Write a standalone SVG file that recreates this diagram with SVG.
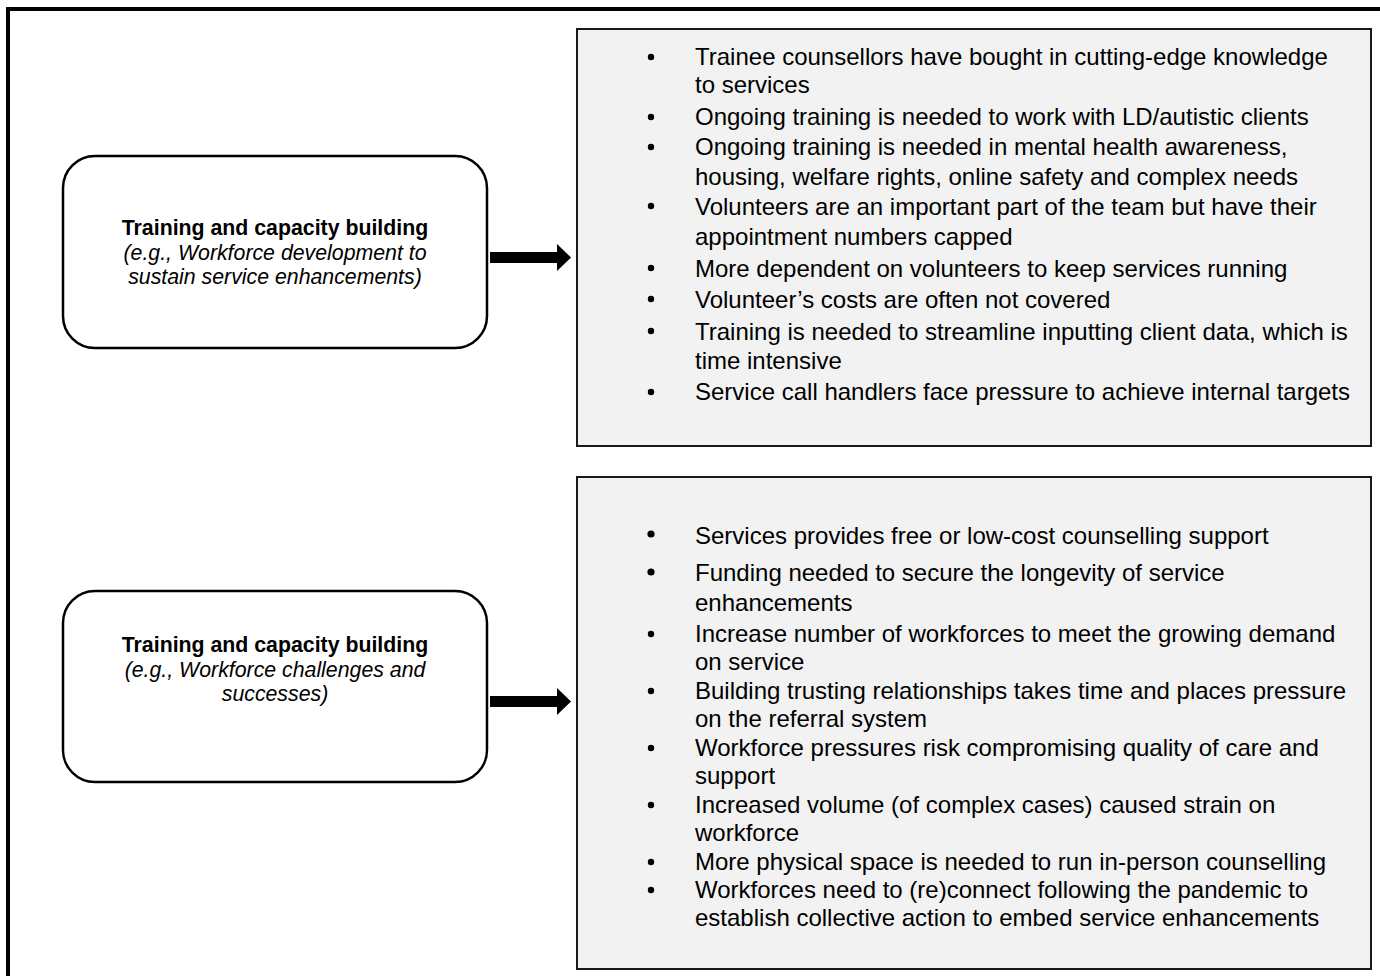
<svg xmlns="http://www.w3.org/2000/svg" width="1380" height="976" viewBox="0 0 1380 976">
<style>
.frame{fill:none;stroke:#000;stroke-width:4}
.src{fill:#fff;stroke:#000;stroke-width:2.5}
.list{fill:#f2f2f2;stroke:#1a1a1a;stroke-width:2}
.t{font-family:"Liberation Sans",Arial,sans-serif;fill:#000}
.b{font-weight:bold;font-size:21.3px}
.i{font-style:italic;font-size:21.3px}
.li{font-size:24px}
.dot{fill:#000}
</style>
<rect class="frame" x="8" y="9" width="1400" height="1000"/>
<g id="node-src1">
<rect class="src" x="63" y="156" width="424" height="192" rx="32" ry="32"/>
<text class="t b" x="275" y="235" text-anchor="middle">Training and capacity building</text>
<text class="t i" x="275" y="260" text-anchor="middle">(e.g., Workforce development to</text>
<text class="t i" x="275" y="284" text-anchor="middle">sustain service enhancements)</text>
</g>
<g id="node-src2">
<rect class="src" x="63" y="591" width="424" height="191" rx="32" ry="32"/>
<text class="t b" x="275" y="652" text-anchor="middle">Training and capacity building</text>
<text class="t i" x="275" y="677" text-anchor="middle">(e.g., Workforce challenges and</text>
<text class="t i" x="275" y="701" text-anchor="middle">successes)</text>
</g>
<g id="connectors">
<polygon points="490,252 557,252 557,244 571,257.5 557,271 557,263 490,263" fill="#000"/>
<polygon points="490,696 557,696 557,688 571,701.5 557,715 557,707 490,707" fill="#000"/>
</g>
<g id="node-list1">
<rect class="list" x="577" y="29" width="794" height="417"/>
<g class="dot">
<circle cx="651" cy="57" r="3.2"/>
<circle cx="651" cy="117" r="3.2"/>
<circle cx="651" cy="147" r="3.2"/>
<circle cx="651" cy="206" r="3.2"/>
<circle cx="651" cy="268" r="3.2"/>
<circle cx="651" cy="299" r="3.2"/>
<circle cx="651" cy="331" r="3.2"/>
<circle cx="651" cy="392" r="3.2"/>
</g>
<g class="t li">
<text x="695" y="65">Trainee counsellors have bought in cutting-edge knowledge</text>
<text x="695" y="93">to services</text>
<text x="695" y="125">Ongoing training is needed to work with LD/autistic clients</text>
<text x="695" y="155">Ongoing training is needed in mental health awareness,</text>
<text x="695" y="185">housing, welfare rights, online safety and complex needs</text>
<text x="695" y="215">Volunteers are an important part of the team but have their</text>
<text x="695" y="245">appointment numbers capped</text>
<text x="695" y="277">More dependent on volunteers to keep services running</text>
<text x="695" y="308">Volunteer’s costs are often not covered</text>
<text x="695" y="340">Training is needed to streamline inputting client data, which is</text>
<text x="695" y="369">time intensive</text>
<text x="695" y="400">Service call handlers face pressure to achieve internal targets</text>
</g>
</g>
<g id="node-list2">
<rect class="list" x="577" y="477" width="794" height="492"/>
<g class="dot">
<circle cx="651" cy="534" r="3.6"/>
<circle cx="651" cy="572" r="3.6"/>
<circle cx="651" cy="634" r="3.2"/>
<circle cx="651" cy="691" r="3.2"/>
<circle cx="651" cy="748" r="3.2"/>
<circle cx="651" cy="805" r="3.2"/>
<circle cx="651" cy="862" r="3.2"/>
<circle cx="651" cy="890" r="3.2"/>
</g>
<g class="t li">
<text x="695" y="544">Services provides free or low-cost counselling support</text>
<text x="695" y="581">Funding needed to secure the longevity of service</text>
<text x="695" y="611">enhancements</text>
<text x="695" y="642">Increase number of workforces to meet the growing demand</text>
<text x="695" y="670">on service</text>
<text x="695" y="699">Building trusting relationships takes time and places pressure</text>
<text x="695" y="727">on the referral system</text>
<text x="695" y="756">Workforce pressures risk compromising quality of care and</text>
<text x="695" y="784">support</text>
<text x="695" y="813">Increased volume (of complex cases) caused strain on</text>
<text x="695" y="841">workforce</text>
<text x="695" y="870">More physical space is needed to run in-person counselling</text>
<text x="695" y="898">Workforces need to (re)connect following the pandemic to</text>
<text x="695" y="926">establish collective action to embed service enhancements</text>
</g>
</g>
</svg>
